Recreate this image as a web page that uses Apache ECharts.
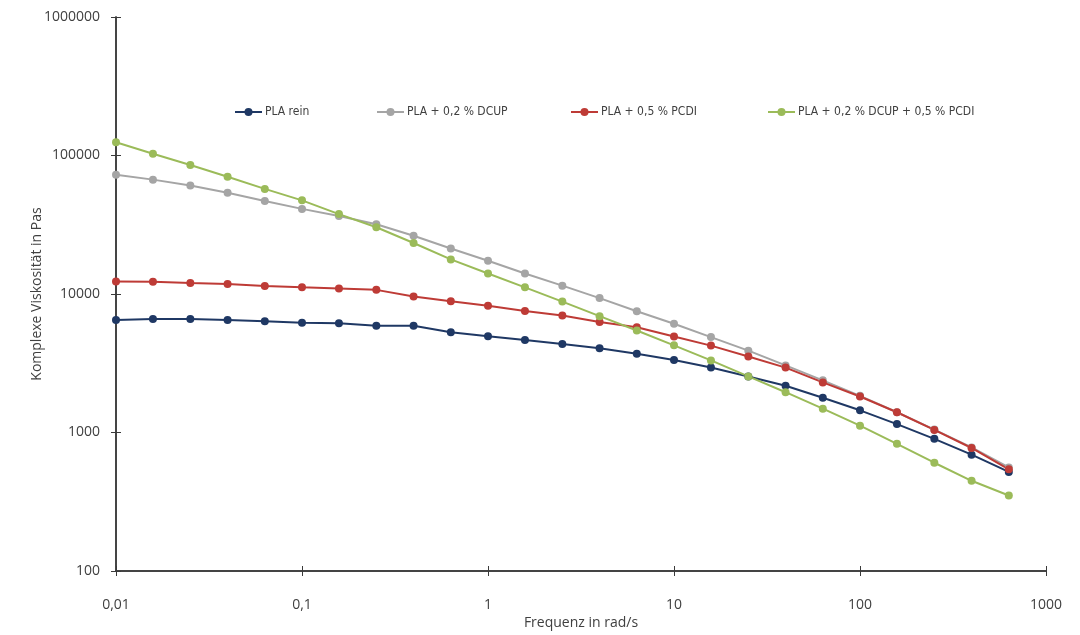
<!DOCTYPE html>
<html><head><meta charset="utf-8">
<script src="https://cdn.jsdelivr.net/npm/echarts@6/dist/echarts.min.js"></script>
<style>html,body{margin:0;padding:0;background:#fff}#c{width:1080px;height:635px}</style>
</head><body><div id="c"></div>
<script>
const frequencies = [0.01, 0.0158, 0.0251, 0.0398, 0.0631, 0.1, 0.158, 0.251, 0.398, 0.631, 1, 1.58, 2.51, 3.98, 6.31, 10, 15.8, 25.1, 39.8, 63.1, 100, 158, 251, 398, 631];
const plaRein = [6485, 6590, 6590, 6485, 6347, 6201, 6141, 5907, 5907, 5301, 4950, 4650, 4350, 4055, 3700, 3335, 2945, 2540, 2177, 1780, 1446, 1150, 900, 692, 519];
const plaDcup = [72600, 66950, 60700, 53750, 46900, 41170, 36540, 31850, 26360, 21300, 17400, 14060, 11490, 9340, 7510, 6100, 4885, 3900, 3050, 2380, 1840, 1400, 1050, 780, 560];
const plaPcdi = [12330, 12270, 12020, 11820, 11430, 11170, 10940, 10710, 9600, 8850, 8220, 7550, 7000, 6280, 5760, 4935, 4240, 3540, 2942, 2300, 1820, 1400, 1043, 773, 542];
const plaBoth = [124600, 102900, 85500, 70300, 57400, 47450, 37740, 30330, 23350, 17780, 14060, 11170, 8810, 6920, 5446, 4260, 3315, 2540, 1954, 1487, 1120, 829, 605, 448, 351];
const seriesNames = ['PLA rein', 'PLA + 0,2 % DCUP', 'PLA + 0,5 % PCDI', 'PLA + 0,2 % DCUP + 0,5 % PCDI'];
const seriesColors = ['#1f3864', '#a5a5a5', '#be3b36', '#9bbb59'];
const seriesValues = [plaRein, plaDcup, plaPcdi, plaBoth];

const narrow = "'Liberation Sans Narrow','DejaVu Sans Condensed','Open Sans',sans-serif";
const sans = "'Open Sans','DejaVu Sans',sans-serif";
function fmt(v){ return String(Number(v.toPrecision(6))).replace('.', ','); }

const chart = echarts.init(document.getElementById('c'));
const legendLeft = [229, 371, 565, 762];
const axisCol = '#3a3a3a';
chart.setOption({
  animation: false,
  grid: {left: 116, right: 34, top: 17, bottom: 55},
  legend: seriesNames.map((n, i) => ({
    data: [n], left: legendLeft[i], top: 101, itemWidth: 27, itemHeight: 10, itemGap: 4,
    textStyle: {fontFamily: narrow, fontSize: 12, color: '#404040', padding: [0,0,0,-2]}
  })),
  xAxis: [{
    type: 'log', logBase: 10, min: 0.01, max: 1000,
    name: 'Frequenz in rad/s', nameLocation: 'middle', nameGap: 45, nameMoveOverlap: false,
    nameTextStyle: {fontFamily: sans, fontSize: 14, color: '#404040'},
    axisLine: {lineStyle: {color: axisCol, width: 1.5}},
    axisTick: {length: 5, lineStyle: {color: axisCol}},
    axisLabel: {formatter: fmt, fontFamily: sans, fontSize: 14, color: '#404040', margin: 27},
    splitLine: {show: false}, minorTick: {show: false}
  }, {
    type: 'log', logBase: 10, min: 0.01, max: 1000, position: 'bottom',
    axisLine: {show: true, lineStyle: {color: axisCol, width: 1.5}},
    axisTick: {show: true, inside: true, length: 5, lineStyle: {color: axisCol}},
    axisLabel: {show: false}, splitLine: {show: false}
  }],
  yAxis: [{
    type: 'log', logBase: 10, min: 100, max: 1000000,
    name: 'Komplexe Viskosität in Pas', nameLocation: 'middle', nameGap: 72, nameRotate: 90, nameMoveOverlap: false,
    nameTextStyle: {fontFamily: sans, fontSize: 14, color: '#404040'},
    axisLine: {show: true, lineStyle: {color: axisCol, width: 1.5}},
    axisTick: {show: true, length: 5, lineStyle: {color: axisCol}},
    axisLabel: {formatter: fmt, fontFamily: sans, fontSize: 14, color: '#404040', margin: 16},
    splitLine: {show: false}
  }, {
    type: 'log', logBase: 10, min: 100, max: 1000000, position: 'left',
    axisLine: {show: true, lineStyle: {color: axisCol, width: 1.5}},
    axisTick: {show: true, inside: true, length: 5, lineStyle: {color: axisCol}},
    axisLabel: {show: false}, splitLine: {show: false}
  }],
  series: seriesNames.map((n, i) => ({
    name: n, type: 'line', xAxisIndex: 0, yAxisIndex: 0,
    data: frequencies.map((f, k) => [f, seriesValues[i][k]]),
    color: seriesColors[i],
    symbol: 'circle', symbolSize: 8,
    lineStyle: {width: 2, color: seriesColors[i]},
    itemStyle: {color: seriesColors[i]}
  }))
});
</script></body></html>
